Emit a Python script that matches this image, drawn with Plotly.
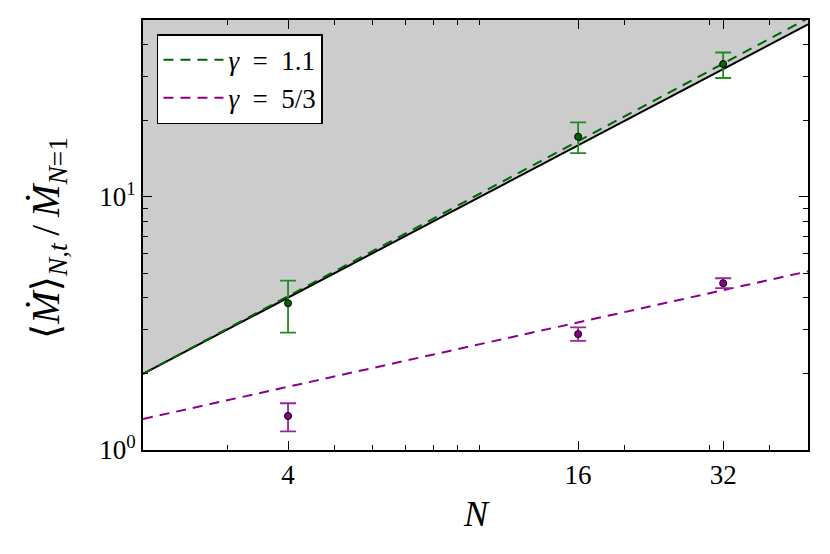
import math
import plotly.graph_objects as go

# Data
N_vals = [4, 16, 32]
green_y = [3.80, 17.3, 33.5]
green_hi = [4.67, 19.7, 37.2]
green_lo = [2.91, 14.9, 29.5]
purple_y = [1.363, 2.87, 4.56]
purple_hi = [1.53, 3.05, 4.77]
purple_lo = [1.185, 2.70, 4.36]

fit_N = [2, 48]
green_fit = [2.0, 50.8]
purple_fit = [1.326, 5.08]
linear_ref = [2, 48]

x_range = [2, 48]
y_range = [1, 50]

x_tick_vals = [4, 16, 32]
x_tick_text = ["4", "16", "32"]
x_minor = [3, 5, 6, 7, 8, 9, 10, 20, 30, 40]
y_tick_vals = [1, 10]
y_tick_text = ["10<sup>0</sup>", "10<sup>1</sup>"]
y_minor = [2, 3, 4, 5, 6, 7, 8, 9, 20, 30, 40]

GREEN = "#006400"
GREEN_ERR = "#228B22"
PURPLE = "#8B008B"
PURPLE_ERR = "#A020A0"
FONT = "Liberation Serif, DejaVu Serif, serif"

W, H = 814, 538
L, R, T, B = 135, 14, 12, 96

fig = go.Figure()

# gray shaded region above y = N
fig.add_trace(go.Scatter(
    x=[fit_N[0], fit_N[1], x_range[1], x_range[0]],
    y=[linear_ref[0], linear_ref[1], y_range[1], y_range[1]],
    fill="toself", fillcolor="#cccccc", line=dict(width=0),
    mode="lines", showlegend=False, hoverinfo="skip"))

fig.add_trace(go.Scatter(x=fit_N, y=linear_ref, mode="lines",
                         line=dict(color="black", width=2), showlegend=False))

fig.add_trace(go.Scatter(x=fit_N, y=green_fit, mode="lines",
                         line=dict(color=GREEN, width=2, dash="10px,7px"),
                         name="<i>γ</i>\u2002=\u20021.1"))
fig.add_trace(go.Scatter(x=fit_N, y=purple_fit, mode="lines",
                         line=dict(color=PURPLE, width=2, dash="10px,7px"),
                         name="<i>γ</i>\u2002=\u20025/3"))

fig.add_trace(go.Scatter(
    x=N_vals, y=green_y, mode="markers",
    marker=dict(color=GREEN, size=7, line=dict(color="black", width=1)),
    error_y=dict(type="data", symmetric=False,
                 array=[h - v for h, v in zip(green_hi, green_y)],
                 arrayminus=[v - l for l, v in zip(green_lo, green_y)],
                 color=GREEN_ERR, thickness=1.8, width=8),
    showlegend=False))
fig.add_trace(go.Scatter(
    x=N_vals, y=purple_y, mode="markers",
    marker=dict(color=PURPLE, size=7, line=dict(color="black", width=1)),
    error_y=dict(type="data", symmetric=False,
                 array=[h - v for h, v in zip(purple_hi, purple_y)],
                 arrayminus=[v - l for l, v in zip(purple_lo, purple_y)],
                 color=PURPLE_ERR, thickness=1.8, width=8),
    showlegend=False))

fig.update_xaxes(
    type="log", range=[math.log10(x_range[0]), math.log10(x_range[1])],
    tickvals=x_tick_vals, ticktext=x_tick_text,
    ticks="inside", ticklen=9, tickwidth=1.2, tickcolor="black",
    minor=dict(tickvals=x_minor, ticks="inside", ticklen=5, tickcolor="black", tickwidth=1),
    showline=True, linecolor="black", linewidth=2, mirror="allticks",
    showgrid=False, zeroline=False, automargin=False,
    tickfont=dict(family=FONT, size=27, color="black"))
fig.update_yaxes(
    type="log", range=[math.log10(y_range[0]), math.log10(y_range[1])],
    tickvals=y_tick_vals, ticktext=y_tick_text,
    ticks="inside", ticklen=9, tickwidth=1.2, tickcolor="black",
    minor=dict(tickvals=y_minor, ticks="inside", ticklen=5, tickcolor="black", tickwidth=1),
    showline=True, linecolor="black", linewidth=2, mirror="allticks",
    showgrid=False, zeroline=False, automargin=False,
    tickfont=dict(family=FONT, size=27, color="black"))

pw = W - L - R
ph = H - T - B
# axis titles as annotations
fig.add_annotation(text="<i>N</i>", xref="paper", yref="paper",
                   x=(468 - L) / pw, y=1 - (506 - T) / ph,
                   xanchor="center", yanchor="middle", showarrow=False,
                   font=dict(family=FONT, size=36, color="black"))
fig.add_annotation(text="⟨<i>Ṁ</i>⟩<sub><i>N,t</i></sub>\u2009/\u2009<i>Ṁ</i><sub><i>N</i>=1</sub>",
                   xref="paper", yref="paper",
                   x=(40 - L) / pw, y=1 - (230 - T) / ph,
                   xanchor="center", yanchor="middle", textangle=-90, showarrow=False,
                   font=dict(family=FONT, size=39, color="black"))

fig.update_layout(
    width=W, height=H,
    margin=dict(l=L, r=R, t=T, b=B),
    plot_bgcolor="white", paper_bgcolor="white",
    legend=dict(x=0.021, y=0.967, xanchor="left", yanchor="top",
                bgcolor="white", bordercolor="black", borderwidth=1.5,
                font=dict(family=FONT, size=27, color="black"),
                itemwidth=60, tracegroupgap=0),
)

fig.write_html("out.html")
